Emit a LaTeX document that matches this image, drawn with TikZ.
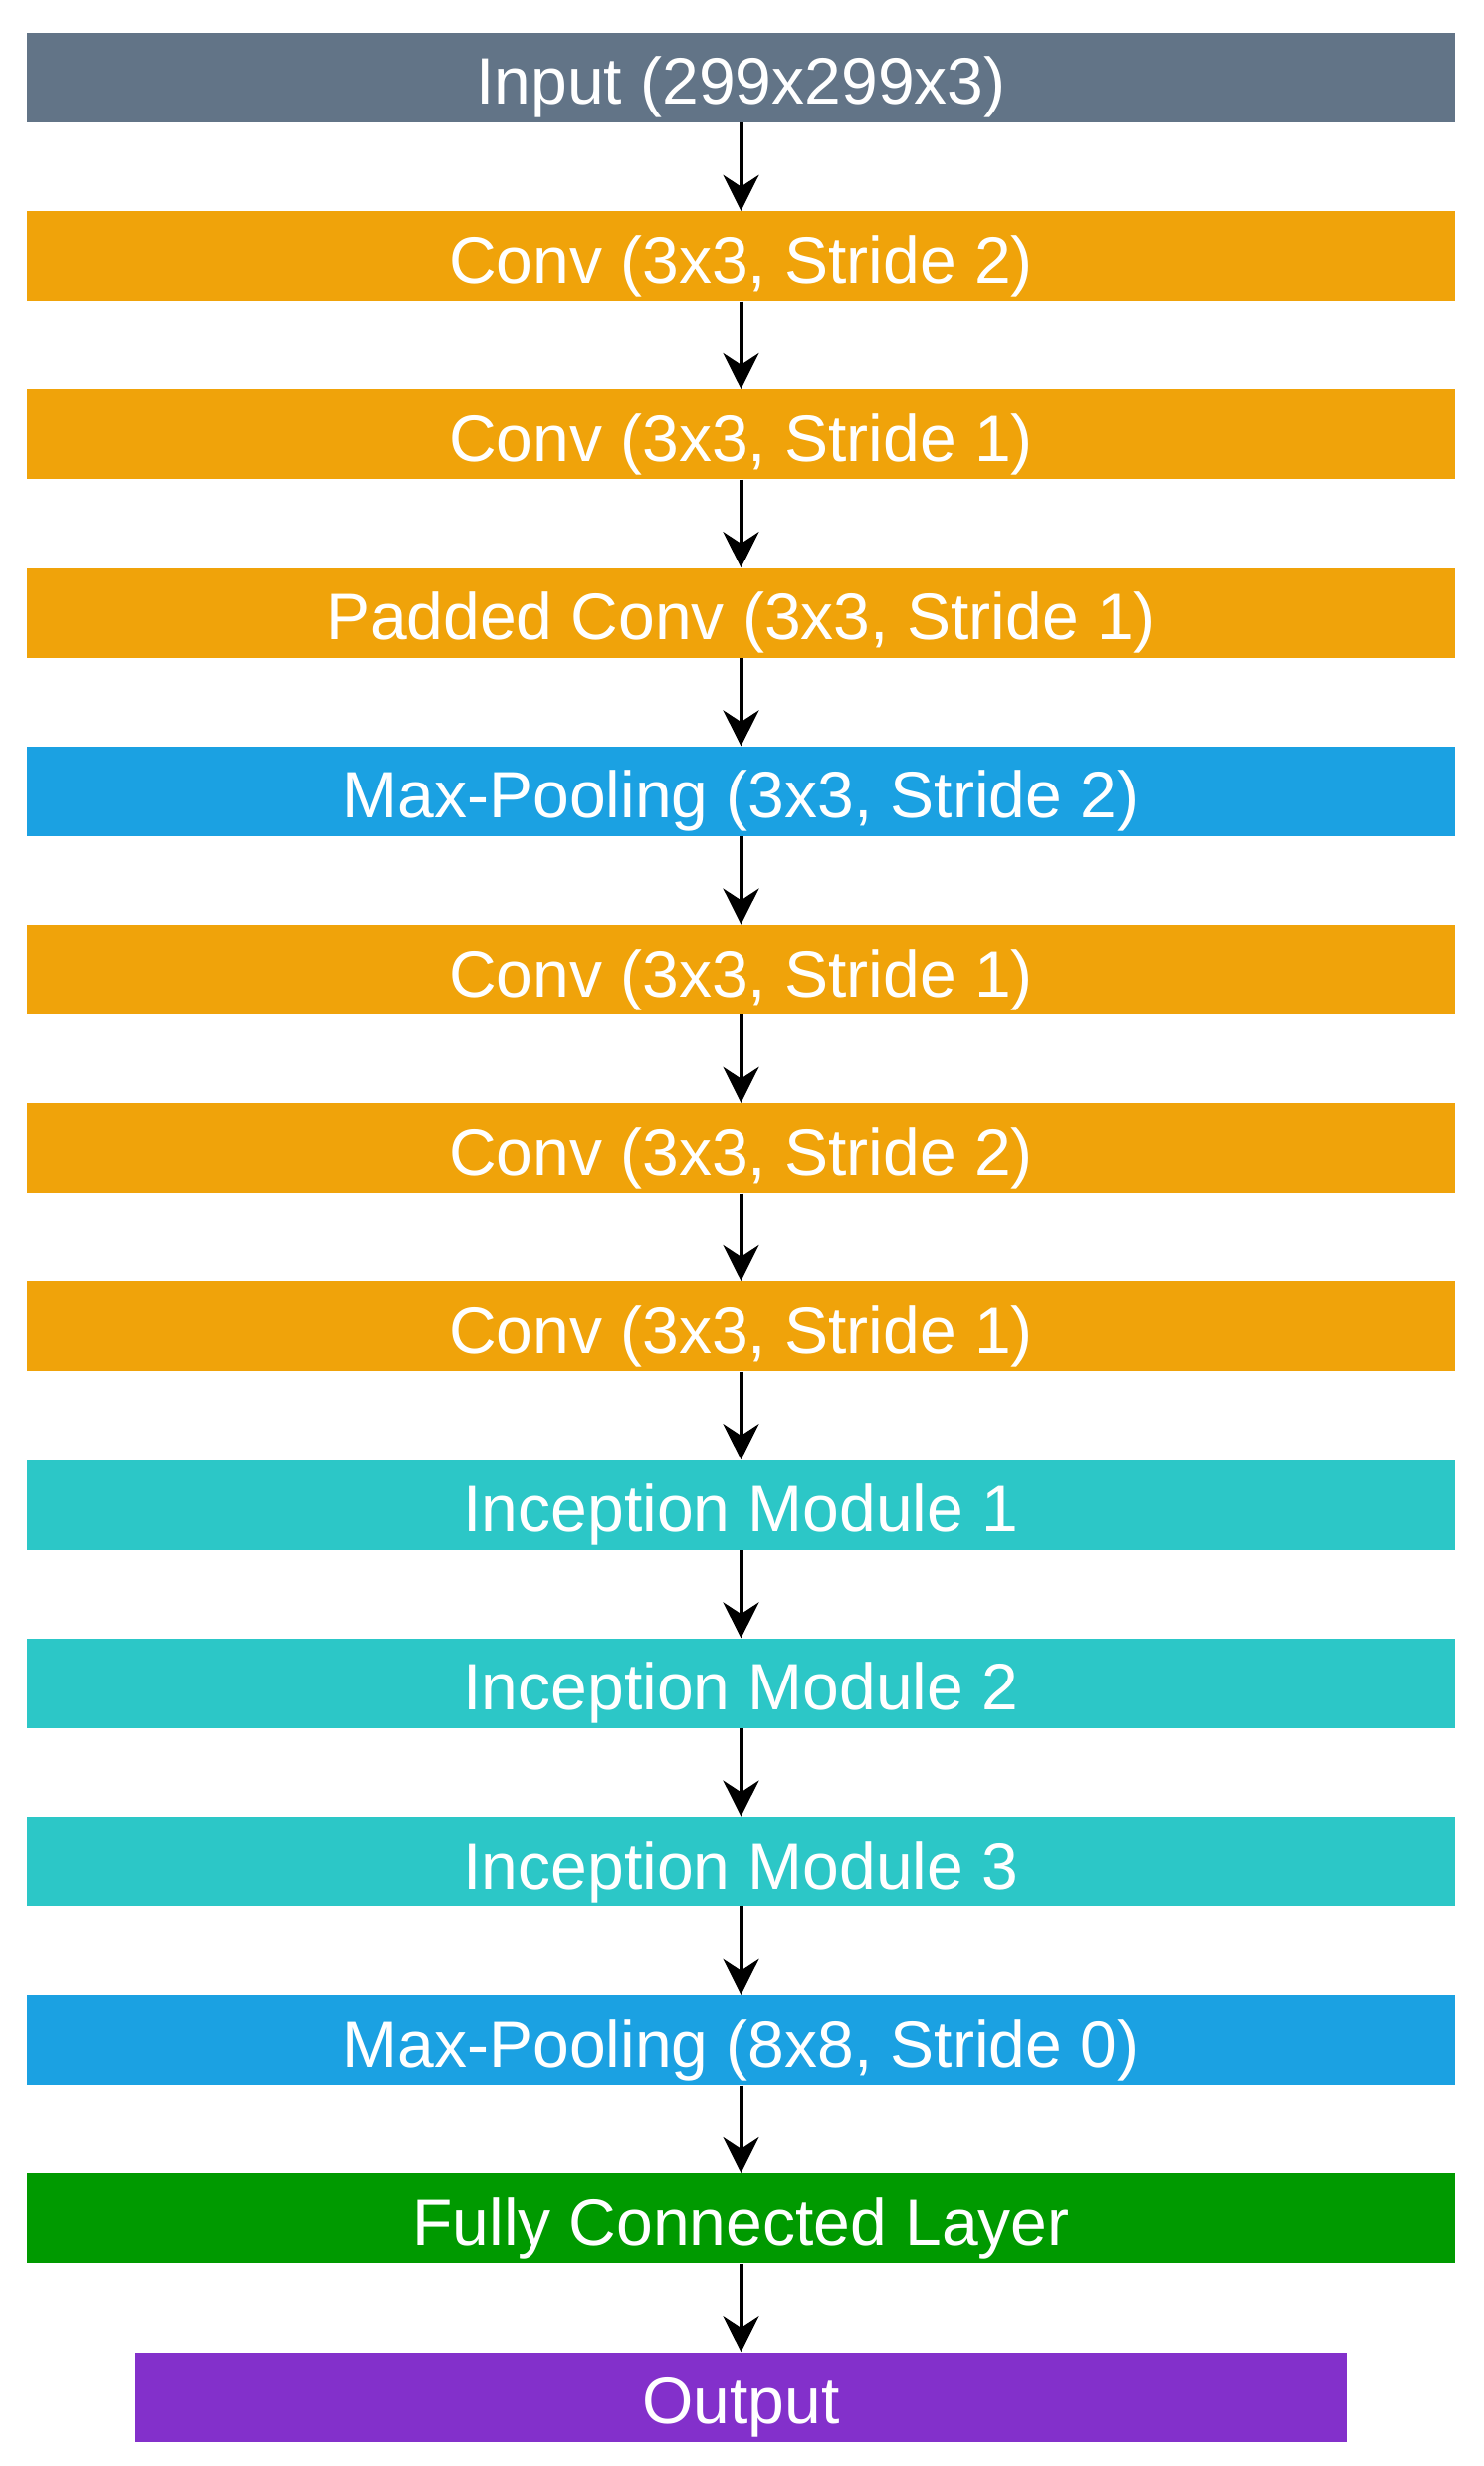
\documentclass[tikz,border=0pt]{standalone}
\usepackage{fontspec}
\setmainfont{Liberation Sans}
\usepackage{tikz}
\usetikzlibrary{arrows.meta,shapes,backgrounds}

\definecolor{inputgray}{HTML}{627487}
\definecolor{convorange}{HTML}{F0A30A}
\definecolor{poolblue}{HTML}{1BA1E2}
\definecolor{inceptcyan}{HTML}{2CC7C7}
\definecolor{fcgreen}{HTML}{009A00}
\definecolor{outpurple}{HTML}{8330CB}

\begin{document}
\begin{tikzpicture}[node distance = 89.6pt]
	  \tikzstyle{layer}=[rectangle,inner sep=0pt,minimum width=717.5pt,minimum height=45pt,
				  text height=27pt,text depth=0pt,
				  text=white,font=\fontsize{33}{36}\selectfont]
	  \tikzstyle{input layer}=[layer,fill=inputgray]
	  \tikzstyle{conv layer}=[layer,fill=convorange]
	  \tikzstyle{pool layer}=[layer,fill=poolblue]
	  \tikzstyle{incept layer}=[layer,fill=inceptcyan]
	  \tikzstyle{fc layer}=[layer,fill=fcgreen]
	  \tikzstyle{out layer}=[layer,fill=outpurple,minimum width=608.5pt]
	  \tikzstyle{flow}=[line width=2pt,-{Stealth[length=18pt,width=18pt]}]

		\useasboundingbox (0,0) rectangle (745pt,-1238.5pt);

		\node[input layer] (in) at (372.25pt,-39pt) {Input (299x299x3)};
		\node[conv layer] (c1) [below of =in] {Conv (3x3, Stride 2)};
		\node[conv layer] (c2) [below of =c1] {Conv (3x3, Stride 1)};
		\node[conv layer] (c3) [below of =c2] {Padded Conv (3x3, Stride 1)};
		\node[pool layer] (p1) [below of =c3] {Max-Pooling (3x3, Stride 2)};
		\node[conv layer] (c4) [below of =p1] {Conv (3x3, Stride 1)};
		\node[conv layer] (c5) [below of =c4] {Conv (3x3, Stride 2)};
		\node[conv layer] (c6) [below of =c5] {Conv (3x3, Stride 1)};
		\node[incept layer] (i1) [below of =c6] {Inception Module 1};
		\node[incept layer] (i2) [below of =i1] {Inception Module 2};
		\node[incept layer] (i3) [below of =i2] {Inception Module 3};
		\node[pool layer] (p2) [below of =i3] {Max-Pooling (8x8, Stride 0)};
		\node[fc layer] (fc) [below of =p2] {Fully Connected Layer};
		\node[out layer] (out) [below of =fc] {Output};

		\foreach \a/\b in {in/c1,c1/c2,c2/c3,c3/p1,p1/c4,c4/c5,c5/c6,c6/i1,i1/i2,i2/i3,i3/p2,p2/fc,fc/out}
			\draw[flow] (\a) -- (\b);

	\end{tikzpicture}
\end{document}
